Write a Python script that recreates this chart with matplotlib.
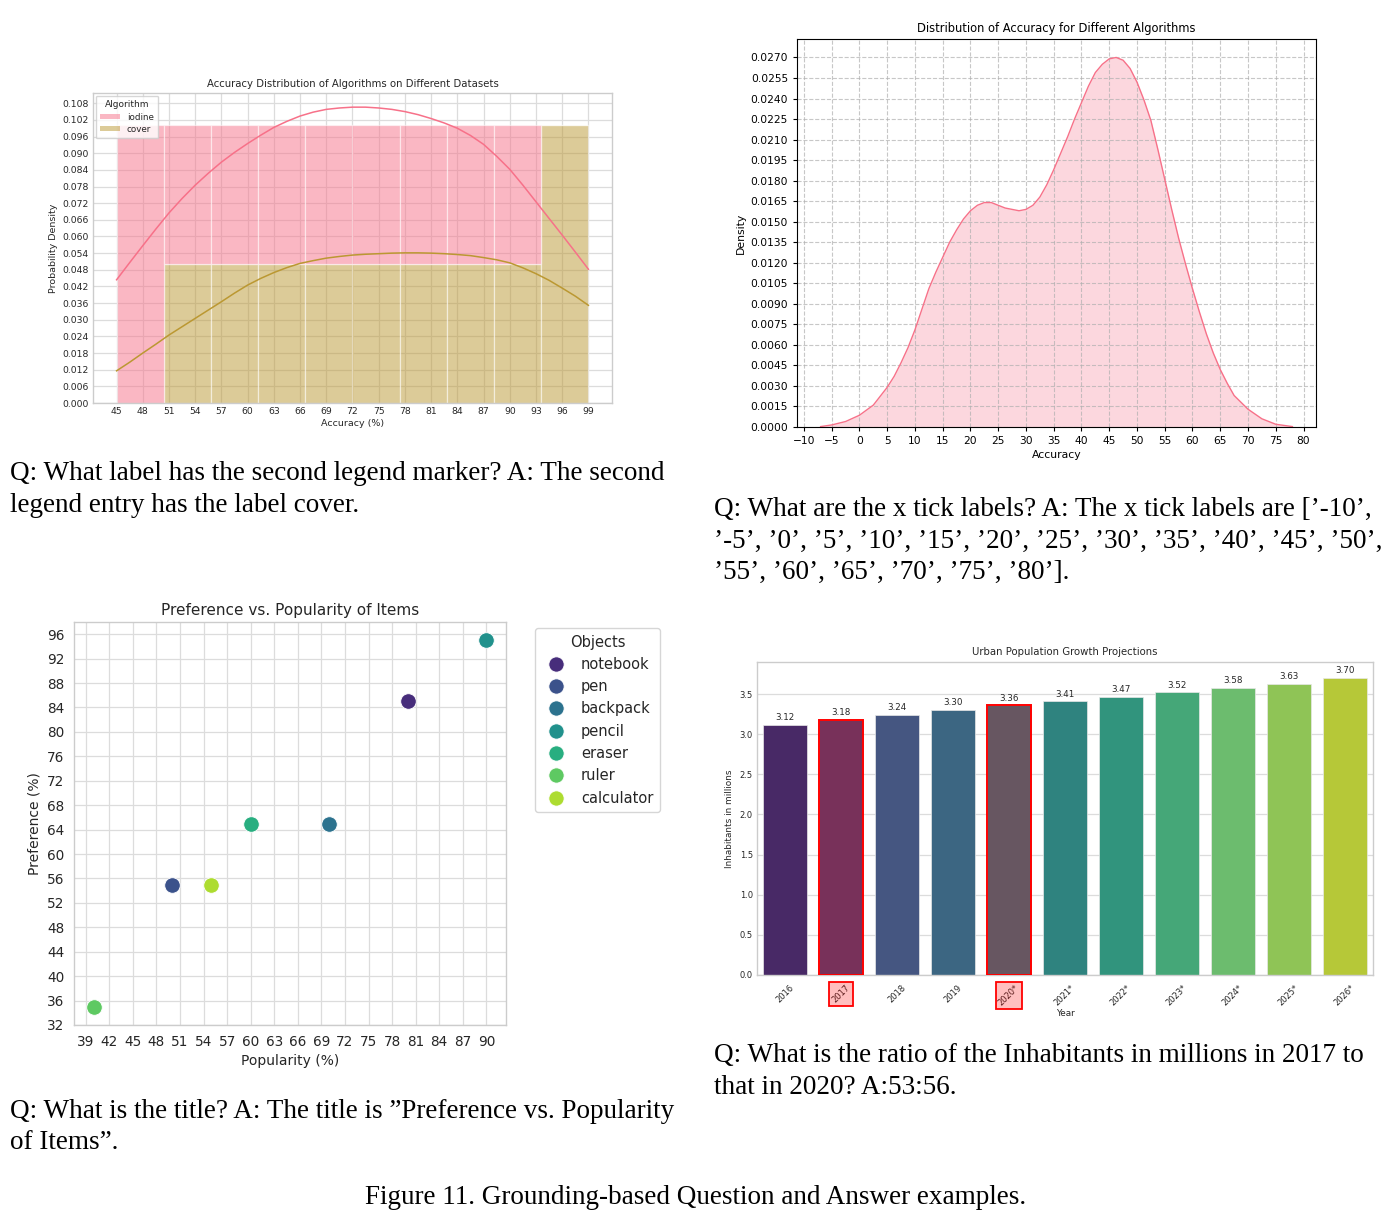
import numpy as np
import matplotlib
matplotlib.use("Agg")
import matplotlib.pyplot as plt
import seaborn as sns
from matplotlib.patches import Patch, Rectangle
from matplotlib.lines import Line2D
from matplotlib.ticker import FormatStrFormatter

# ---------------- data ----------------
# Panel 1: stacked histogram (probability) + KDE curves
hist_edges = [45, 50.4, 55.8, 61.2, 66.6, 72, 77.4, 82.8, 88.2, 93.6, 99]
iodine_prob = [0.10, 0.05, 0.05, 0.05, 0.05, 0.05, 0.05, 0.05, 0.05, 0.00]
cover_prob = [0.00, 0.05, 0.05, 0.05, 0.05, 0.05, 0.05, 0.05, 0.05, 0.10]
kde1_x = [45, 46.5, 48, 49.5, 51, 52.5, 54, 55.5, 57, 58.5, 60, 61.5, 63, 64.5, 66, 67.5,
          69, 70.5, 72, 73.5, 75, 76.5, 78, 79.5, 81, 82.5, 84, 85.5, 87, 88.5, 90, 91.5,
          93, 94.5, 96, 97.5, 99]
iodine_kde = [0.0444, 0.0506, 0.0567, 0.0627, 0.0685, 0.0737, 0.0785, 0.0828, 0.0868, 0.0903,
              0.0935, 0.0965, 0.0993, 0.1015, 0.1034, 0.1048, 0.1058, 0.1063, 0.1066, 0.1066,
              0.1063, 0.1058, 0.1050, 0.1039, 0.1025, 0.1009, 0.0990, 0.0964, 0.0932, 0.0889,
              0.0842, 0.0785, 0.0725, 0.0665, 0.0605, 0.0544, 0.0482]
cover_kde = [0.0116, 0.0147, 0.0180, 0.0212, 0.0245, 0.0275, 0.0305, 0.0335, 0.0365, 0.0396,
             0.0425, 0.0449, 0.0470, 0.0488, 0.0503, 0.0513, 0.0522, 0.0528, 0.0533, 0.0536,
             0.0538, 0.0540, 0.0541, 0.0541, 0.0540, 0.0538, 0.0535, 0.0531, 0.0524, 0.0516,
             0.0505, 0.0487, 0.0466, 0.0442, 0.0414, 0.0385, 0.0352]
algorithms = ["iodine", "cover"]

# Panel 2: density curve
kde2_x = [-7, -5, -2.5, 0, 2.5, 5, 6.25, 7.5, 8.75, 10, 11.25, 12.5, 13.75, 15, 16.25, 17.5,
          18.75, 20, 21.25, 22.5, 23.75, 25, 26.25, 27.5, 28.75, 30, 31.25, 32.5, 33.75, 35,
          36.25, 37.5, 38.75, 40, 41.25, 42.5, 43.75, 45, 46.25, 47.5, 48.75, 50, 51.25, 52.5,
          53.75, 55, 56.25, 57.5, 58.75, 60, 61.25, 62.5, 63.75, 65, 66.25, 67.5, 68.75, 70,
          72.5, 75, 78]
kde2_y = [0.00003, 0.00015, 0.0004, 0.00086, 0.0016, 0.0029, 0.0037, 0.0047, 0.0058, 0.0071,
          0.0086, 0.0101, 0.0113, 0.0124, 0.0135, 0.0144, 0.0152, 0.0158, 0.0162, 0.0164,
          0.0164, 0.0162, 0.0160, 0.0159, 0.0158, 0.0159, 0.0162, 0.0168, 0.0177, 0.0188,
          0.0200, 0.0212, 0.0225, 0.0237, 0.0249, 0.0259, 0.0265, 0.0269, 0.0270, 0.0268,
          0.0262, 0.0252, 0.0239, 0.0224, 0.0203, 0.0181, 0.0159, 0.0138, 0.0119, 0.0101,
          0.0084, 0.0068, 0.0054, 0.0042, 0.0032, 0.0023, 0.0018, 0.0013, 0.0006, 0.0002,
          0.00003]

# Panel 3: scatter
objects = ["notebook", "pen", "backpack", "pencil", "eraser", "ruler", "calculator"]
popularity = [80, 50, 70, 90, 60, 40, 55]
preference = [85, 55, 65, 95, 65, 35, 55]

# Panel 4: bars
years = ["2016", "2017", "2018", "2019", "2020*", "2021*", "2022*", "2023*", "2024*", "2025*", "2026*"]
inhabitants = [3.12, 3.18, 3.24, 3.30, 3.36, 3.41, 3.47, 3.52, 3.58, 3.63, 3.70]
highlight = ["2017", "2020*"]

# text
q1 = ["Q: What label has the second legend marker? A: The second",
      "legend entry has the label cover."]
q2 = ["Q: What are the x tick labels? A: The x tick labels are [\u2019-10\u2019,",
      "\u2019-5\u2019, \u20190\u2019, \u20195\u2019, \u201910\u2019, \u201915\u2019, \u201920\u2019, \u201925\u2019, \u201930\u2019, \u201935\u2019, \u201940\u2019, \u201945\u2019, \u201950\u2019,",
      "\u201955\u2019, \u201960\u2019, \u201965\u2019, \u201970\u2019, \u201975\u2019, \u201980\u2019]."]
q3 = ["Q: What is the title? A: The title is \u201dPreference vs. Popularity",
      "of Items\u201d."]
q4 = ["Q: What is the ratio of the Inhabitants in millions in 2017 to",
      "that in 2020? A:53:56."]
caption = "Figure 11. Grounding-based Question and Answer examples."

# ---------------- figure ----------------
W, H = 1392, 1226
fig = plt.figure(figsize=(W / 100, H / 100), dpi=100)
fig.patch.set_facecolor("white")


def ax_px(l, t, r, b):
    return fig.add_axes([l / W, 1 - b / H, (r - l) / W, (b - t) / H])


DARK = "#262626"
GRID = "#dcdcdc"


def sns_style(ax, xgrid=True, ygrid=True):
    ax.set_axisbelow(True)
    for s in ax.spines.values():
        s.set_color("#cccccc")
        s.set_linewidth(1.0)
    ax.tick_params(length=0, colors=DARK)
    if xgrid:
        ax.grid(True, axis="x", color=GRID, linewidth=0.9)
    if ygrid:
        ax.grid(True, axis="y", color=GRID, linewidth=0.9)


husl = sns.color_palette("husl", 6)
pink, gold = husl[0], husl[1]

# ---- Panel 1 ----
ax1 = ax_px(93, 93, 612, 403)
sns_style(ax1)
left = np.array(hist_edges[:-1])
widths = np.diff(hist_edges)
ax1.bar(left, cover_prob, width=widths, align="edge", color=gold, alpha=0.5,
        edgecolor="white", linewidth=0.9)
ax1.bar(left, iodine_prob, width=widths, bottom=cover_prob, align="edge", color=pink,
        alpha=0.5, edgecolor="white", linewidth=0.9)
ax1.plot(kde1_x, iodine_kde, color=pink, lw=1.1)
ax1.plot(kde1_x, cover_kde, color=gold, lw=1.1)
ax1.set_xlim(42.3, 101.7)
ax1.set_ylim(0, 0.1117)
ax1.set_xticks(np.arange(45, 100, 3))
ax1.set_yticks(np.arange(0, 0.1085, 0.006))
ax1.yaxis.set_major_formatter(FormatStrFormatter("%.3f"))
ax1.tick_params(labelsize=6.7, pad=3)
ax1.set_title("Accuracy Distribution of Algorithms on Different Datasets", fontsize=7.3,
              color=DARK, pad=4)
ax1.set_xlabel("Accuracy (%)", fontsize=6.8, color=DARK, labelpad=2)
ax1.set_ylabel("Probability Density", fontsize=6.8, color=DARK, labelpad=3)
h1 = [Patch(facecolor=pink, alpha=0.5), Patch(facecolor=gold, alpha=0.5)]
leg1 = ax1.legend(h1, algorithms, title="Algorithm", loc="upper left", fontsize=6.3,
                  title_fontsize=6.5, frameon=True, handlelength=2.2, handleheight=0.6,
                  borderpad=0.55, labelspacing=0.35, borderaxespad=0.3)
leg1.get_frame().set_edgecolor("#cccccc")
for t in leg1.get_texts():
    t.set_color(DARK)
leg1.get_title().set_color(DARK)

# ---- Panel 2 ----
ax2 = ax_px(797, 39, 1316, 427)
ax2.fill_between(kde2_x, kde2_y, 0, color=pink, alpha=0.28, linewidth=0)
ax2.plot(kde2_x, kde2_y, color=pink, lw=1.0)
ax2.set_xlim(-11.25, 82.25)
ax2.set_ylim(0, 0.02835)
ax2.set_xticks(np.arange(-10, 81, 5))
ax2.set_yticks(np.arange(0, 0.02751, 0.0015))
ax2.yaxis.set_major_formatter(FormatStrFormatter("%.4f"))
ax2.grid(True, linestyle="--", color="#b0b0b0", alpha=0.7, linewidth=0.8)
ax2.tick_params(labelsize=7.7, length=3)
ax2.set_title("Distribution of Accuracy for Different Algorithms", fontsize=8.3, pad=5)
ax2.set_xlabel("Accuracy", fontsize=7.8, labelpad=3)
ax2.set_ylabel("Density", fontsize=7.8, labelpad=3)

# ---- Panel 3 ----
ax3 = ax_px(74, 622, 506, 1025)
sns_style(ax3)
vir7 = sns.color_palette("viridis", len(objects))
for i, name in enumerate(objects):
    ax3.scatter(popularity[i], preference[i], s=125, color=vir7[i], edgecolor="white",
                linewidth=0.6, zorder=3)
ax3.set_xlim(37.5, 92.5)
ax3.set_ylim(32, 98)
ax3.set_xticks(np.arange(39, 91, 3))
ax3.set_yticks(np.arange(32, 97, 4))
ax3.tick_params(labelsize=9.8, pad=7)
ax3.set_title("Preference vs. Popularity of Items", fontsize=11, color=DARK, pad=5)
ax3.set_xlabel("Popularity (%)", fontsize=10, color=DARK, labelpad=4)
ax3.set_ylabel("Preference (%)", fontsize=10, color=DARK, labelpad=4)
h3 = [Line2D([], [], marker="o", linestyle="", markersize=11, markerfacecolor=vir7[i],
             markeredgecolor="white", markeredgewidth=0.6) for i in range(len(objects))]
leg3 = ax3.legend(h3, objects, title="Objects", loc="upper left",
                  bbox_to_anchor=(535 / W, 1 - 628 / H), bbox_transform=fig.transFigure,
                  borderaxespad=0, fontsize=10.5, title_fontsize=10.5, frameon=True,
                  handletextpad=0.7, labelspacing=0.5, borderpad=0.45)
leg3.get_frame().set_edgecolor("#cccccc")
for t in leg3.get_texts():
    t.set_color(DARK)
leg3.get_title().set_color(DARK)

# ---- Panel 4 ----
ax4 = ax_px(757, 662, 1373, 975)
sns_style(ax4, xgrid=False, ygrid=True)
vir11 = [sns.desaturate(c, 0.75) for c in sns.color_palette("viridis", len(years))]
xpos = np.arange(len(years))
bars = ax4.bar(xpos, inhabitants, width=0.8, color=vir11, edgecolor="#e8e8e8", linewidth=0.5)
ax4.bar_label(bars, labels=[f"{v:.2f}" for v in inhabitants], padding=2, fontsize=6.3,
              color=DARK)
hl_idx = [years.index(y) for y in highlight]
ax4.bar(xpos[hl_idx], [inhabitants[i] for i in hl_idx], width=0.8,
        color=(1, 0, 0, 0.25), edgecolor="red", linewidth=1.4, zorder=3)
ax4.set_xlim(-0.5, len(years) - 0.5)
ax4.set_ylim(0, 3.9)
ax4.set_xticks(xpos)
ax4.set_xticklabels(years, rotation=45)
ax4.set_yticks(np.arange(0, 3.51, 0.5))
ax4.tick_params(labelsize=6.0, pad=3)
ax4.tick_params(axis="x", pad=6)
ax4.set_title("Urban Population Growth Projections", fontsize=7.3, color=DARK, pad=5)
ax4.set_xlabel("Year", fontsize=6.4, color=DARK, labelpad=1)
ax4.set_ylabel("Inhabitants in millions", fontsize=6.4, color=DARK, labelpad=4)

# ---- Text ----
SERIF = ["Liberation Serif", "DejaVu Serif"]
TS = 19.5


def put_lines(x, y0, lines, dy=32):
    for k, s in enumerate(lines):
        fig.text(x / W, 1 - (y0 + k * dy) / H, s, fontsize=TS, family=SERIF,
                 ha="left", va="baseline", color="black")


put_lines(10, 480, q1)
put_lines(714, 516, q2, dy=31.5)
put_lines(10, 1118, q3, dy=31)
put_lines(714, 1062, q4, dy=32)
fig.text(696 / W, 1 - 1204 / H, caption, fontsize=TS, family=SERIF, ha="center",
         va="baseline", color="black")

# highlight boxes around the selected tick labels
fig.canvas.draw()
labs = ax4.get_xticklabels()
for i in hl_idx:
    bb = labs[i].get_window_extent()
    x0, y0, x1, y1 = bb.x0 - 1, bb.y0 - 1, bb.x1 + 1, bb.y1 + 1
    fig.patches.append(Rectangle((x0 / W, y0 / H), (x1 - x0) / W, (y1 - y0) / H,
                                 transform=fig.transFigure, facecolor=(1, 0, 0, 0.25),
                                 edgecolor="red", linewidth=1.3, figure=fig))

fig.savefig("out.png", dpi=100, facecolor="white")
